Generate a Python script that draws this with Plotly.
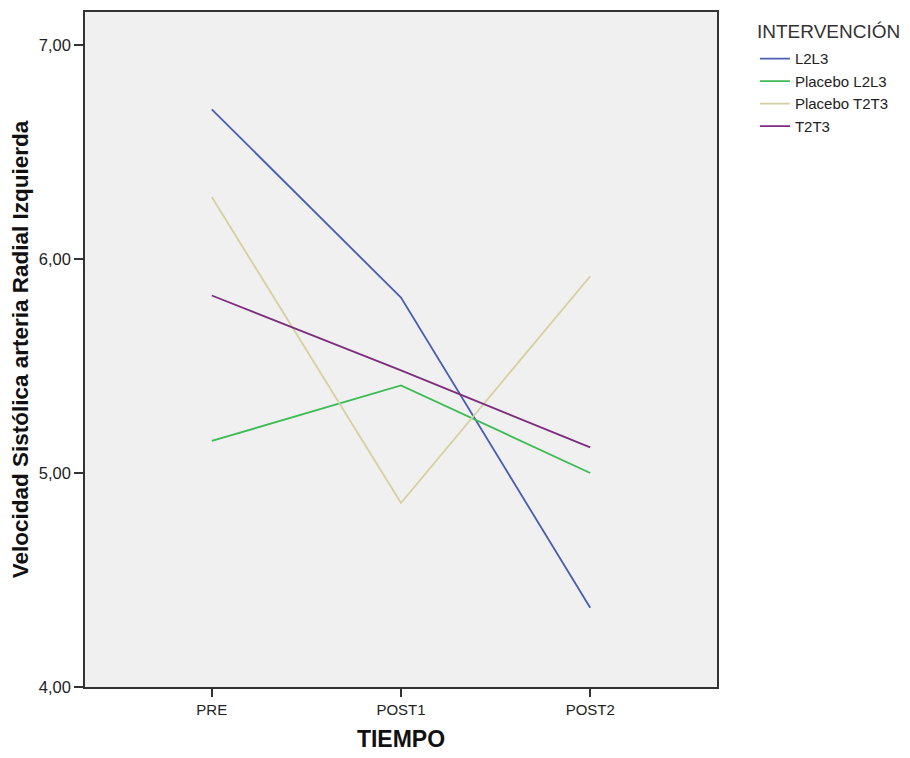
import plotly.graph_objects as go

tiempo = ["PRE", "POST1", "POST2"]
l2l3 = [6.70, 5.82, 4.37]
placebo_l2l3 = [5.15, 5.41, 5.00]
placebo_t2t3 = [6.29, 4.86, 5.92]
t2t3 = [5.83, 5.48, 5.12]

series = [
    ("L2L3", l2l3, "#4A5DB0"),
    ("Placebo L2L3", placebo_l2l3, "#3CBB55"),
    ("Placebo T2T3", placebo_t2t3, "#D5D0A0"),
    ("T2T3", t2t3, "#7C2D7D"),
]

y_ticks = [4, 5, 6, 7]
y_ticklabels = ["4,00", "5,00", "6,00", "7,00"]
legend_title = "INTERVENCIÓN"

fig = go.Figure()
for name, vals, color in series:
    fig.add_trace(go.Scatter(x=tiempo, y=vals, mode="lines", name=name,
                             line=dict(color=color, width=1.8)))

font_family = "Liberation Sans, Arial, sans-serif"
fig.update_layout(
    width=910, height=758,
    margin=dict(l=77, r=201, t=2, b=79),
    paper_bgcolor="white",
    plot_bgcolor="#F0F0F0",
    font=dict(family=font_family, size=15, color="#222"),
    showlegend=True,
    legend=dict(
        x=1.06, xanchor="left", y=0.955, yanchor="top",
        font=dict(size=15, color="#222"),
        bgcolor="rgba(0,0,0,0)",
        tracegroupgap=0,
    ),
    annotations=[dict(
        text=legend_title, xref="paper", yref="paper",
        x=1.060, y=0.9715, xanchor="left", yanchor="middle",
        showarrow=False, font=dict(size=19, color="#333"),
    )],
    xaxis=dict(
        type="category",
        range=[-0.67, 2.67],
        showgrid=False, zeroline=False,
        showline=True, linecolor="#333", linewidth=1.5, mirror=True,
        ticks="outside", ticklen=8, tickcolor="#333", tickwidth=1.5,
        tickfont=dict(size=15, color="#222"),
        title=dict(text="<b>TIEMPO</b>", font=dict(size=23, color="#111"), standoff=14),
    ),
    yaxis=dict(
        range=[4, 7.155],
        tickvals=y_ticks, ticktext=y_ticklabels,
        showgrid=False, zeroline=False,
        showline=True, linecolor="#333", linewidth=1.5, mirror=True,
        ticks="outside", ticklen=9, tickcolor="#333", tickwidth=1.5,
        tickfont=dict(size=16.5, color="#222"),
        title=dict(text="<b>Velocidad Sistólica arteria Radial Izquierda</b>",
                   font=dict(size=22.5, color="#111"), standoff=10),
    ),
)

fig.write_html("out.html")
